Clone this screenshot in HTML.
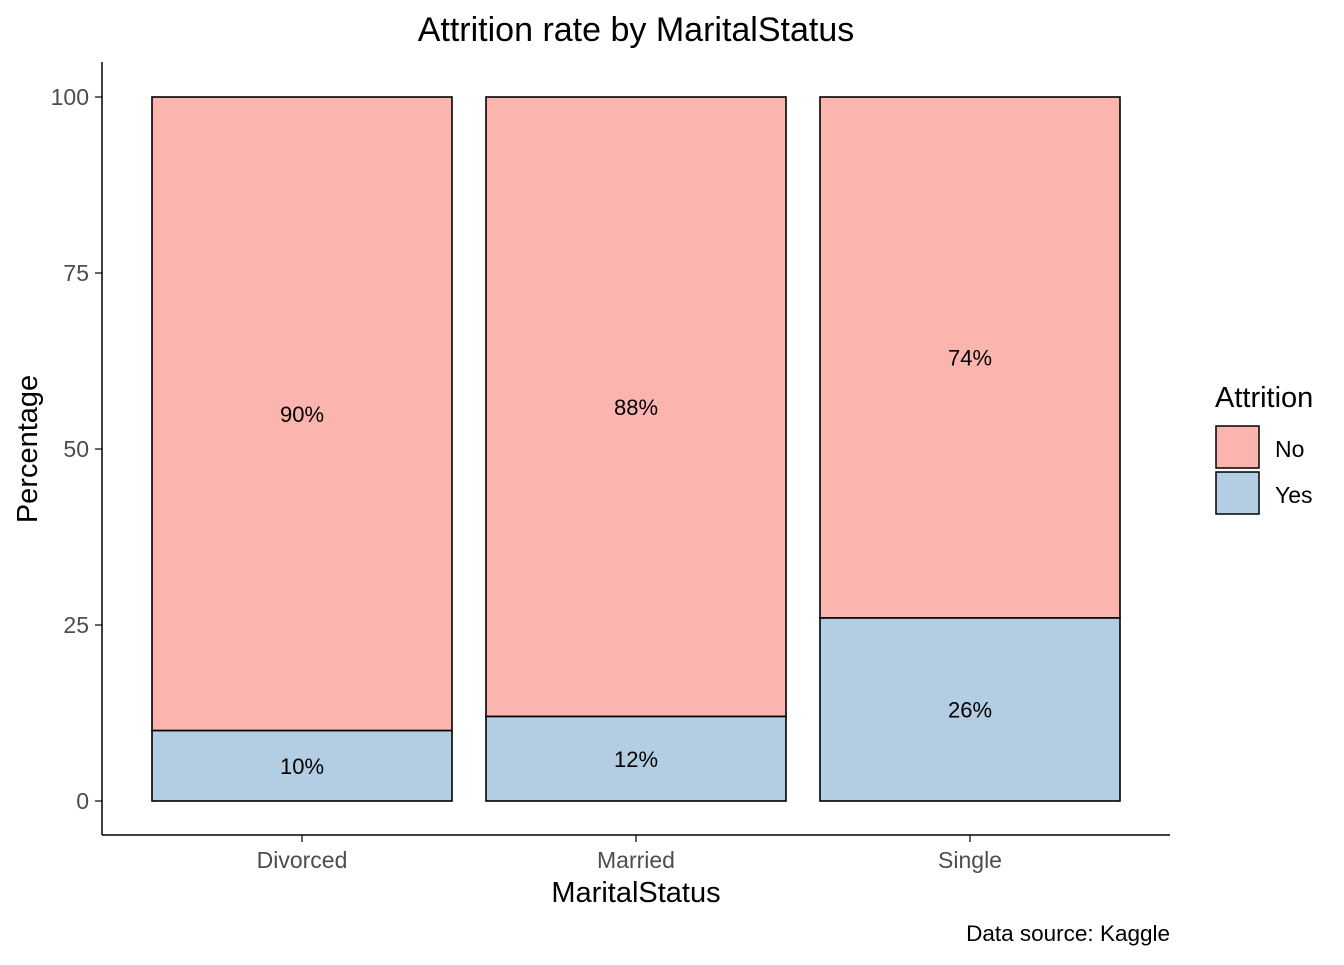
<!DOCTYPE html>
<html><head><meta charset="utf-8"><style>
body{margin:0;background:#fff;}
svg{font-family:"Liberation Sans",Arial,sans-serif;}
</style></head><body>
<svg id="chart" width="1344" height="960">
<text x="636" y="41" text-anchor="middle" font-size="34" fill="#000">Attrition rate by MaritalStatus</text>
<g id="bars"></g>
<g id="axes"></g>
<text x="636" y="902" text-anchor="middle" font-size="29" fill="#000">MaritalStatus</text>
<text transform="translate(37,449) rotate(-90)" text-anchor="middle" font-size="29" fill="#000">Percentage</text>
<text x="1170" y="941" text-anchor="end" font-size="22.5" fill="#000">Data source: Kaggle</text>
<g>
<text x="1215" y="407" font-size="29" fill="#000">Attrition</text>
<rect x="1216" y="426" width="43" height="42" fill="#FBB4AE" stroke="#000" stroke-width="1.5"/>
<text x="1275" y="457" font-size="23" fill="#000">No</text>
<rect x="1216" y="472" width="43" height="42" fill="#B3CDE3" stroke="#000" stroke-width="1.5"/>
<text x="1275" y="503" font-size="23" fill="#000">Yes</text>
</g>
</svg>
<script>
const categories=["Divorced","Married","Single"];
const yesValues=[10,12,26];
const noValues=[90,88,74];
const yTicks=[0,25,50,75,100];
const NS="http://www.w3.org/2000/svg";
const y=v=>801-v*7.04;
const xc=i=>302+i*334;
const bw=300;
function mk(tag,attrs,parent){const e=document.createElementNS(NS,tag);for(const k in attrs)e.setAttribute(k,attrs[k]);parent.appendChild(e);return e;}
const bars=document.getElementById('bars'),axes=document.getElementById('axes');
categories.forEach((c,i)=>{
  const yes=yesValues[i],no=noValues[i];
  const r1=mk('rect',{x:xc(i)-bw/2,y:y(yes+no),width:bw,height:y(yes)-y(yes+no),fill:'#FBB4AE',stroke:'#000','stroke-width':1.6},bars);
  
  
  const r2=mk('rect',{x:xc(i)-bw/2,y:y(yes),width:bw,height:y(0)-y(yes),fill:'#B3CDE3',stroke:'#000','stroke-width':1.6},bars);
  
  
  const t1=mk('text',{x:xc(i),y:y(yes+no/2)+8,'text-anchor':'middle','font-size':22,fill:'#000'},bars);
  t1.textContent=no+'%';
  
  
  const t2=mk('text',{x:xc(i),y:y(yes/2)+8,'text-anchor':'middle','font-size':22,fill:'#000'},bars);
  t2.textContent=yes+'%';
  
  
  const tk=mk('line',{x1:xc(i),x2:xc(i),y1:835,y2:842,stroke:'#333','stroke-width':1.5},axes);
  
  
  const tl=mk('text',{x:xc(i),y:868,'text-anchor':'middle','font-size':23,fill:'#4d4d4d'},axes);
  tl.textContent=c;
  
  
});
yTicks.forEach(v=>{
  const tk=mk('line',{x1:95,x2:102,y1:y(v),y2:y(v),stroke:'#333','stroke-width':1.5},axes);
  
  
  const tl=mk('text',{x:89,y:y(v)+8,'text-anchor':'end','font-size':23,fill:'#4d4d4d'},axes);
  tl.textContent=v;
  
  
});
const ya=mk('line',{x1:102,x2:102,y1:62,y2:835,stroke:'#000','stroke-width':1.5},axes);


const xa=mk('line',{x1:102,x2:1170,y1:835,y2:835,stroke:'#000','stroke-width':1.5},axes);


</script>
</body></html>
